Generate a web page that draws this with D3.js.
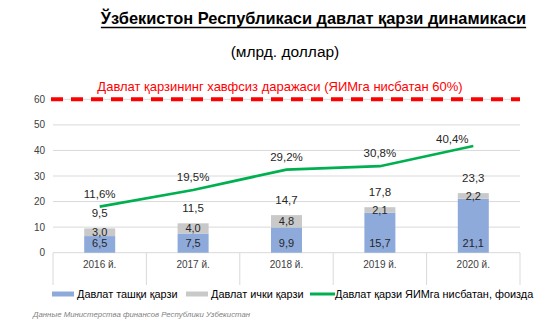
<!DOCTYPE html>
<html><head><meta charset="utf-8">
<script src="https://cdn.jsdelivr.net/npm/d3@7"></script>
<style>body{margin:0;background:#fff}svg{display:block;font-family:"Liberation Sans",Arial,sans-serif}</style>
</head><body><svg id="c" width="560" height="327"></svg>
<script>
const categories = ["2016 й.","2017 й.","2018 й.","2019 й.","2020 й."];
const externalDebt = [6.5, 7.5, 9.9, 15.7, 21.1];
const internalDebt = [3.0, 4.0, 4.8, 2.1, 2.2];
const totalDebt = [9.5, 11.5, 14.7, 17.8, 23.3];
const debtToGdp = [11.6, 19.5, 29.2, 30.8, 40.4];
const yTicks = [0,10,20,30,40,50,60];
const safeLevel = 60;
const fmt = v => String(v.toFixed(1)).replace(".", ",");

const svg = d3.select("#c");
const L = 53, R = 520, T = 99.3, B = 252.7;
const x = d3.scaleBand().domain(categories).range([L, R]).paddingInner(0).paddingOuter(0);
const y = d3.scaleLinear().domain([0, 60]).range([B, T]);
const y2 = d3.scaleLinear().domain([-10.3, 62.6]).range([B, T]);

// title
const title = svg.append("text").attr("x", 313.5).attr("y", 24).attr("text-anchor","middle")
  .attr("font-size", 16.4).attr("font-weight","bold").attr("fill","#000")
  .text("Ўзбекистон Республикаси давлат қарзи динамикаси");
const tw = title.node().getComputedTextLength();
svg.append("line").attr("x1", 313.5 - tw/2).attr("x2", 313.5 + tw/2).attr("y1", 27.5).attr("y2", 27.5)
  .attr("stroke","#000").attr("stroke-width",1.5);
svg.append("text").attr("x", 285).attr("y", 57).attr("text-anchor","middle")
  .attr("font-size", 15.5).attr("fill","#000").text("(млрд. доллар)");

// gridlines
svg.append("g").selectAll("line").data(yTicks.filter(t=>t>0)).join("line")
  .attr("x1", L).attr("x2", R).attr("y1", d=>y(d)).attr("y2", d=>y(d))
  .attr("stroke","#d9d9d9").attr("stroke-width",1);
// y tick labels
svg.append("g").selectAll("text").data(yTicks).join("text")
  .attr("x", 45).attr("y", d=>y(d)+3.5).attr("text-anchor","end")
  .attr("font-size", 10).attr("fill","#404040").text(d=>d);

// category dividers
const edges = categories.map(c=>x(c)).concat([R]);
svg.append("g").selectAll("line").data(edges).join("line")
  .attr("x1", d=>d).attr("x2", d=>d).attr("y1", B).attr("y2", 285)
  .attr("stroke","#d9d9d9").attr("stroke-width",1);
svg.append("line").attr("x1",L).attr("x2",R).attr("y1",B).attr("y2",B).attr("stroke","#d9d9d9");
svg.append("g").selectAll("text").data(categories).join("text")
  .attr("x", d=>x(d)+x.bandwidth()/2).attr("y", 267.5).attr("text-anchor","middle")
  .attr("font-size", 10).attr("fill","#404040").text(d=>d);

// bars
const bw = 31;
const gb = svg.append("g");
categories.forEach((c,i)=>{
  const cx = x(c)+x.bandwidth()/2;
  gb.append("rect").attr("x", cx-bw/2).attr("width", bw)
    .attr("y", y(externalDebt[i])).attr("height", y(0)-y(externalDebt[i])).attr("fill","#8eaadb");
  gb.append("rect").attr("x", cx-bw/2).attr("width", bw)
    .attr("y", y(externalDebt[i]+internalDebt[i])).attr("height", y(externalDebt[i])-y(externalDebt[i]+internalDebt[i])).attr("fill","#c9c9c9");
  gb.append("text").attr("x", cx).attr("y", 247).attr("text-anchor","middle")
    .attr("font-size", 11).attr("fill","#262626").text(fmt(externalDebt[i]));
  gb.append("text").attr("x", cx).attr("y", (y(externalDebt[i])+y(externalDebt[i]+internalDebt[i]))/2+4)
    .attr("text-anchor","middle").attr("font-size", 11).attr("fill","#262626").text(fmt(internalDebt[i]));
  gb.append("text").attr("x", cx).attr("y", y(totalDebt[i])-11)
    .attr("text-anchor","middle").attr("font-size", 11.5).attr("fill","#262626").text(fmt(totalDebt[i]));
});

// safe level dashed line
svg.append("line").attr("x1", 51).attr("x2", R).attr("y1", y(safeLevel)).attr("y2", y(safeLevel))
  .attr("stroke","#ff0000").attr("stroke-width",4).attr("stroke-dasharray","12,8");
svg.append("text").attr("x", 280).attr("y", 91).attr("text-anchor","middle")
  .attr("font-size", 13).attr("fill","#ff0000")
  .text("Давлат қарзининг хавфсиз даражаси (ЯИМга нисбатан 60%)");

// line
const line = d3.line().x((d,i)=>x(categories[i])+x.bandwidth()/2).y(d=>y2(d));
svg.append("path").datum(debtToGdp).attr("d", line).attr("fill","none")
  .attr("stroke","#00b050").attr("stroke-width",2.7);
svg.append("g").selectAll("text").data(debtToGdp).join("text")
  .attr("x", (d,i)=>x(categories[i])+x.bandwidth()/2 + (i===4?-21:0))
  .attr("y", (d,i)=>y2(d) - (i===4?3:9))
  .attr("text-anchor","middle").attr("font-size", 11.5).attr("fill","#262626")
  .text(d=>fmt(d)+"%");

// legend
const lg = svg.append("g").attr("font-size", 10.9).attr("fill","#000");
lg.append("rect").attr("x",52).attr("y",291.5).attr("width",22).attr("height",5).attr("fill","#8eaadb");
lg.append("text").attr("x",77).attr("y",298).text("Давлат ташқи қарзи");
lg.append("rect").attr("x",186).attr("y",291.5).attr("width",22).attr("height",5).attr("fill","#c9c9c9");
lg.append("text").attr("x",211).attr("y",298).text("Давлат ички қарзи");
lg.append("line").attr("x1",310).attr("x2",335).attr("y1",294).attr("y2",294).attr("stroke","#00b050").attr("stroke-width",3);
lg.append("text").attr("x",335).attr("y",298).text("Давлат қарзи ЯИМга нисбатан, фоизда");

svg.append("text").attr("x",33).attr("y",317).attr("font-size",7.8).attr("font-style","italic")
  .attr("fill","#7f7f7f").text("Данные Министерства финансов Республики Узбекистан");
</script></body></html>
